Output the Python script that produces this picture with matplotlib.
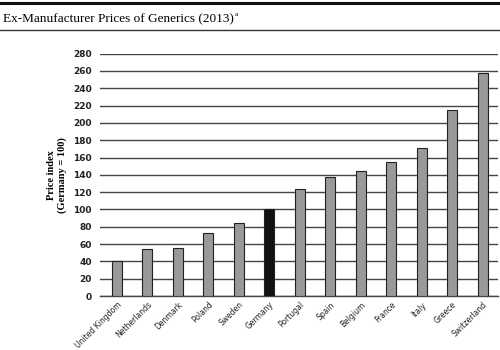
import matplotlib.pyplot as plt
from matplotlib.lines import Line2D

# Datos
countries = ['United Kingdom', 'Netherlands', 'Denmark', 'Poland', 'Sweden', 'Germany',
             'Portugal', 'Spain', 'Belgium', 'France', 'Italy', 'Greece', 'Switzerland']
prices = [41, 54, 56, 73, 84, 100, 124, 137, 144, 155, 171, 215, 257]
yticks = list(range(0, 281, 20))

fig = plt.figure(figsize=(5, 3.5), dpi=100)
ax = fig.add_axes([0.2, 0.154, 0.796, 0.693])

colors = ['#111111' if c == 'Germany' else '#999999' for c in countries]
ax.bar(range(len(countries)), prices, width=0.33, color=colors,
       edgecolor='#222222', linewidth=0.8, zorder=3)

ax.set_ylim(0, 280)
ax.set_xlim(-0.55, len(countries) - 0.5)
ax.set_yticks(yticks)
ax.set_yticklabels([str(t) for t in yticks], fontsize=6.5, fontweight='bold', color='#222222')
ax.set_xticks(range(len(countries)))
ax.set_xticklabels(countries, rotation=45, ha='right', rotation_mode='anchor',
                   fontsize=5.5, color='#222222')
ax.tick_params(axis='x', length=0, pad=3)
ax.tick_params(axis='y', length=0, pad=6)

# Líneas horizontales de la cuadrícula
ax.grid(axis='y', color='#444444', linewidth=1.0, zorder=0)
ax.set_axisbelow(True)
for s in ['left', 'right', 'top']:
    ax.spines[s].set_visible(False)
ax.spines['bottom'].set_color('#444444')
ax.spines['bottom'].set_linewidth(1.0)

ax.set_ylabel('Price index\n(Germany = 100)', fontsize=7.5, fontweight='bold',
              family='Liberation Serif', labelpad=4)

# Título y líneas decorativas
title = fig.text(0.006, 0.946, 'Ex-Manufacturer Prices of Generics (2013)',
                 fontsize=9.5, family='Liberation Serif', va='center', ha='left')
fig.canvas.draw()
bb = title.get_window_extent().transformed(fig.transFigure.inverted())
fig.text(bb.x1 + 0.002, 0.958, 'a', fontsize=5, family='Liberation Serif',
         va='center', ha='left')
fig.add_artist(Line2D([0, 1], [0.991, 0.991], color='#111111', linewidth=2.2))
fig.add_artist(Line2D([0, 1], [0.915, 0.915], color='#333333', linewidth=1.0))

fig.savefig('out.png', dpi=100)
